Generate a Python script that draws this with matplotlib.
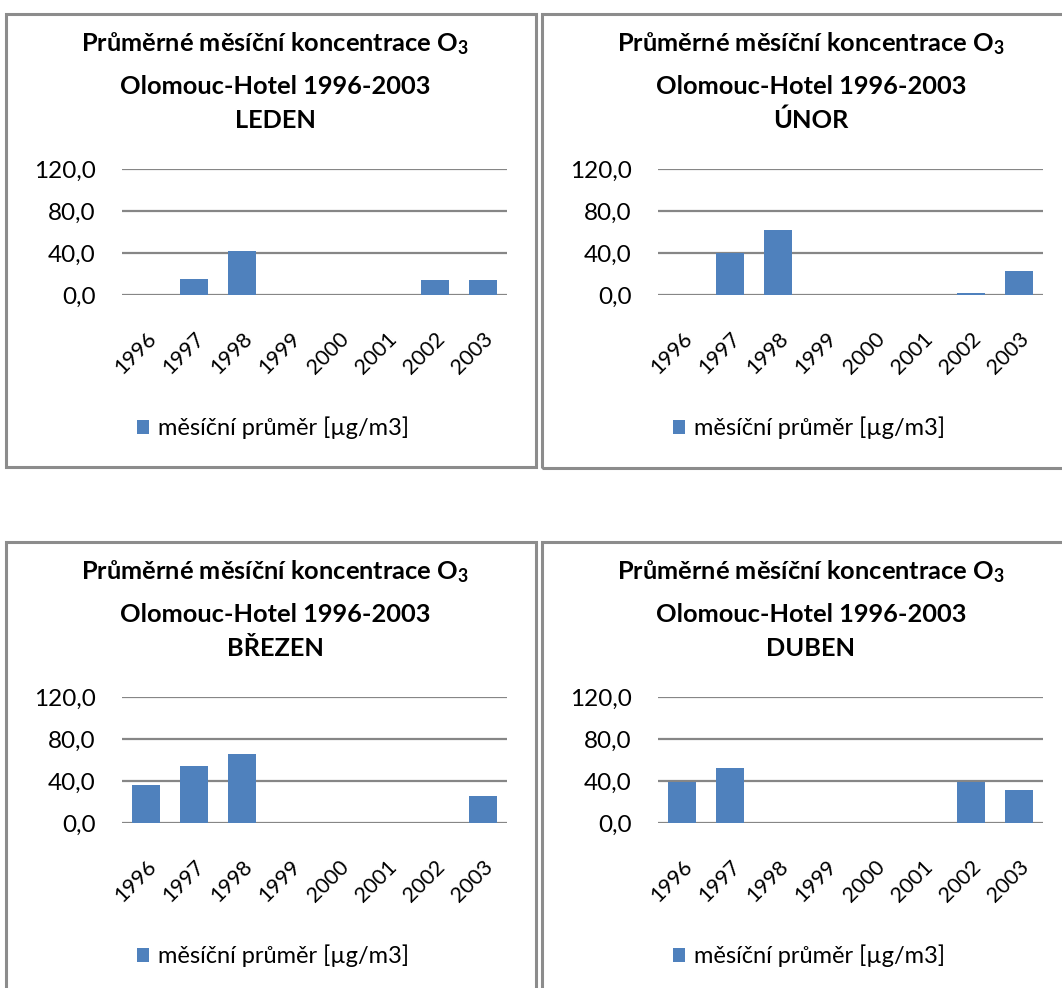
import matplotlib
matplotlib.use("Agg")
import matplotlib.pyplot as plt
from matplotlib.patches import Rectangle

plt.rcParams['font.family'] = ['Lato', 'DejaVu Sans']

years = ['1996', '1997', '1998', '1999', '2000', '2001', '2002', '2003']
leden = [0, 15.0, 41.9, 0, 0, 0, 14.1, 14.1]
unor = [0, 39.7, 62.1, 0, 0, 0, 1.6, 22.7]
brezen = [36.0, 54.1, 65.6, 0, 0, 0, 0, 25.5]
duben = [39.2, 52.2, 0, 0, 0, 0, 39.2, 31.2]
months = ['LEDEN', 'ÚNOR', 'BŘEZEN', 'DUBEN']
yticks = [0, 40, 80, 120]
series_label = 'měsíční průměr [µg/m3]'

W, H = 1062, 988
BAR = '#4F81BD'
GRID = '#868686'

fig = plt.figure(figsize=(W / 100, H / 100), dpi=100)


def fx(px):
    return px / W


def fy(py):
    return 1 - py / H


panels = [
    # (values, month, box left, box top, box right, box bottom, plot left, plot right, y0, y120)
    (leden, months[0], 6, 14, 536, 467, 122, 507, 295, 169),
    (unor, months[1], 542, 14, 1075, 468, 658, 1043, 295, 169),
    (brezen, months[2], 6, 542, 536, 1000, 122, 507, 823, 697),
    (duben, months[3], 542, 542, 1075, 1000, 658, 1043, 823, 697),
]

for vals, month, bl, bt, br, bb, pl, pr, y0, y1 in panels:
    # chart frame
    fig.patches.append(Rectangle((fx(bl), fy(bb)), fx(br - bl), fy(bt) - fy(bb),
                                 transform=fig.transFigure, fill=False,
                                 edgecolor='#8C8C8C', linewidth=2.2, zorder=0))
    cx = bl + 269
    off = bt - 14
    fig.text(fx(cx), fy(off + 44), 'Průměrné měsíční koncentrace O$\\mathregular{_3}$',
             ha='center', va='center', fontsize=18.3, fontweight='bold')
    fig.text(fx(cx), fy(off + 86), 'Olomouc-Hotel 1996-2003', ha='center', va='center',
             fontsize=18.3, fontweight='bold')
    fig.text(fx(cx), fy(off + 120), month, ha='center', va='center',
             fontsize=18.3, fontweight='bold')

    ax = fig.add_axes([fx(pl), fy(y0), fx(pr - pl), fy(y1) - fy(y0)])
    x = range(len(years))
    ax.bar(x, vals, width=0.58, color=BAR, label=series_label, zorder=3)
    ax.set_xlim(-0.5, len(years) - 0.5)
    ax.set_ylim(0, 120)
    ax.set_yticks(yticks)
    ax.set_yticklabels([f'{v:.1f}'.replace('.', ',') for v in yticks], fontsize=17.5)
    ax.set_xticks(list(x))
    ax.set_xticklabels(years, fontsize=15.5, rotation=45, ha='right', va='top',
                       rotation_mode='anchor')
    ax.tick_params(axis='x', length=0, pad=24)
    ax.tick_params(axis='y', length=0, pad=19)
    ax.yaxis.grid(True, color=GRID, linewidth=1.6, zorder=0)
    ax.set_axisbelow(True)
    for s in ax.spines.values():
        s.set_visible(False)

    ax.legend(loc='center', bbox_to_anchor=(fx(bl + 267), fy(bt + 414)),
              bbox_transform=fig.transFigure, frameon=False, fontsize=17,
              handlelength=0.5, handleheight=0.5, handletextpad=0.4)

fig.savefig('out.png', dpi=100, facecolor='white')
